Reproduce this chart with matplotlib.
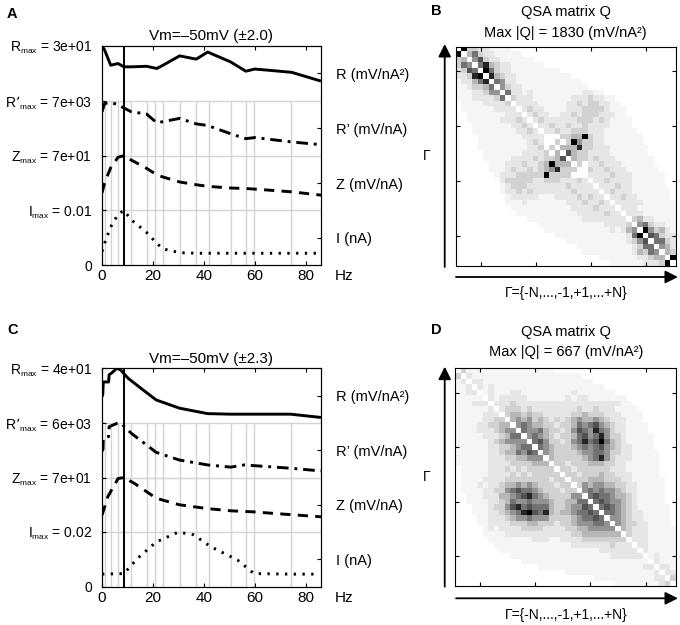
import numpy as np
import matplotlib
matplotlib.use("Agg")
import matplotlib.pyplot as plt
import matplotlib._mathtext as mt
from matplotlib.colors import PowerNorm

plt.rcParams['font.family'] = ['Liberation Sans', 'DejaVu Sans']
plt.rcParams['mathtext.default'] = 'regular'
mt.SHRINK_FACTOR = 0.6  # subscrito "max" menor, como na figura original

# ---------------- dados ----------------
# frequencias das linhas cinzas verticais (Hz)
freq_gray = [1, 3.4, 6.2, 11.5, 17.5, 21, 23.8, 30.8, 37, 42, 50.6, 56.6, 59.8, 74.4]

# painel A (valores normalizados pelo maximo de cada curva)
f_res_A = 8.6
fA = [0, 1, 3.4, 6.3, 8.6, 11.5, 17.5, 21.5, 24, 30.5, 37, 41.5, 50.5, 56.5, 60, 74.5, 86]
R_A = [1.0, 0.93, 0.65, 0.68, 0.62, 0.62, 0.63, 0.59, 0.65, 0.82, 0.76, 0.89, 0.71, 0.54, 0.58, 0.52, 0.36]
Rp_A = [0.80, 0.95, 0.97, 0.93, 0.87, 0.80, 0.76, 0.60, 0.62, 0.68, 0.58, 0.55, 0.40, 0.31, 0.33, 0.25, 0.20]
Z_A = [0.32, 0.50, 0.78, 0.97, 1.0, 0.92, 0.77, 0.65, 0.61, 0.52, 0.47, 0.44, 0.41, 0.40, 0.39, 0.34, 0.28]
I_A = [0.25, 0.40, 0.70, 0.93, 1.0, 0.83, 0.60, 0.40, 0.30, 0.23, 0.22, 0.22, 0.22, 0.22, 0.22, 0.22, 0.22]
labels_A = ["0", "I$_{max}$ = 0.01", "Z$_{max}$ = 7e+01", "R’$_{max}$ = 7e+03", "R$_{max}$ = 3e+01"]
title_A = "Vm=–50mV (±2.0)"

# painel C
f_res_C = 8.5
fC_R = [0, 0.3, 0.5, 2.6, 2.8, 4.2, 5.8, 7.3, 10.2, 15.4, 21.3, 30.4, 41.5, 50.6, 74, 86]
R_C = [0.48, 0.52, 0.75, 0.75, 0.88, 0.93, 1.0, 0.97, 0.82, 0.63, 0.42, 0.27, 0.17, 0.16, 0.16, 0.10]
fC_Rp = [0, 0.4, 0.5, 2.6, 2.8, 5.8, 7.3, 11.5, 21.3, 30.4, 41.5, 50.6, 55.8, 74, 86]
Rp_C = [0.48, 0.52, 0.72, 0.75, 0.93, 0.99, 1.0, 0.81, 0.46, 0.32, 0.23, 0.19, 0.23, 0.17, 0.12]
fC_Z = [0, 2.3, 6.3, 8.6, 12.8, 21.3, 30.4, 41.5, 50.6, 59.7, 74, 86]
Z_C = [0.31, 0.65, 0.98, 1.0, 0.89, 0.62, 0.50, 0.43, 0.39, 0.37, 0.32, 0.28]
fC_I = [0, 8.6, 14, 21.3, 30, 36, 42.8, 53.2, 59.7, 74, 84]
I_C = [0.23, 0.24, 0.52, 0.82, 1.0, 0.95, 0.73, 0.49, 0.24, 0.23, 0.23]
labels_C = ["0", "I$_{max}$ = 0.02", "Z$_{max}$ = 7e+01", "R’$_{max}$ = 6e+03", "R$_{max}$ = 4e+01"]
title_C = "Vm=–50mV (±2.3)"

right_labels = ["I (nA)", "Z (mV/nA)", "R’ (mV/nA)", "R (mV/nA²)"]

# matrizes Q (triangulo superior, intensidade 0-9)
Q_B_upper = [
    "0933221111 0000000000 0000000000 0000000000",
    "0046322111 1100000000 0000000000 0000000000",
    "0005732211 1111000000 0000000000 0000000000",
    "0000684322 1111110000 0000000000 0000000000",
    "0000096322 1111111110 0000000000 0000000000",
    "0000008432 2111111111 1000000000 0000000000",
    "0000000652 2111111111 1110000000 0000000000",
    "0000000053 2211111111 1111000000 0000000000",
    "0000000006 2212111111 1112211000 0000000000",
    "0000000000 3222111111 1222322110 0000000000",
    "0000000000 0222211111 2232332211 0000000000",
    "0000000000 0023221111 2223333211 1000000000",
    "0000000000 0002322112 2323332221 1000000000",
    "0000000000 0000232222 2233323211 1100000000",
    "0000000000 0000022322 3223222211 1100000000",
    "0000000000 0000002232 2333222111 1110000000",
    "0000000000 0000000003 3449322111 1111000000",
    "0000000000 0000000030 3953322111 1111000000",
    "0000000000 0000000004 4483322211 1111100000",
    "0000000000 0000000000 7433222211 1111100000",
    "0000000000 0000000000 0433232221 1111110000",
    "0000000000 0000000000 0030223222 1111110000",
    "0000000000 0000000000 0000322322 2111111000",
    "0000000000 0000000000 0000222232 2211111100",
    "0000000000 0000000000 0000022322 2211111100",
    "0000000000 0000000000 0000002223 2211111100",
    "0000000000 0000000000 0000000232 2211111110",
    "0000000000 0000000000 0000000022 3221111110",
    "0000000000 0000000000 0000000002 2222111111",
    "0000000000 0000000000 0000000000 2221111111",
    "0000000000 0000000000 0000000000 0222111111",
    "0000000000 0000000000 0000000000 0034221111",
    "0000000000 0000000000 0000000000 0005632211",
    "0000000000 0000000000 0000000000 0000953421",
    "0000000000 0000000000 0000000000 0000076322",
    "0000000000 0000000000 0000000000 0000006632",
    "0000000000 0000000000 0000000000 0000000542",
    "0000000000 0000000000 0000000000 0000000043",
    "0000000000 0000000000 0000000000 0000000009",
    "0000000000 0000000000 0000000000 0000000000",
]

Q_D_upper = [
    "0311111111 1111111100 0000000000 0000000000",
    "0021111111 1111111111 1110000000 0000000000",
    "0002211111 1111111111 1111100000 0000000000",
    "0000212111 1111111111 1111111000 0000000000",
    "0000012111 2211111111 1211111110 0000000000",
    "0000002122 2221111111 2122111111 1000000000",
    "0000000222 3222222222 2222222222 1100000000",
    "0000000023 3323222222 2232232221 1110000000",
    "0000000003 4434332222 2334333222 1111000000",
    "0000000000 4545343232 3454454322 2111000000",
    "0000000000 0565443323 3465675432 2111100000",
    "0000000000 0065564332 3576586532 2111100000",
    "0000000000 0005654323 3467568533 2111110000",
    "0000000000 0000675332 3568679643 2111110000",
    "0000000000 0000065433 3456567543 2211110000",
    "0000000000 0000005433 3345566533 2211111000",
    "0000000000 0000000433 3334568532 2211111000",
    "0000000000 0000000033 2333444332 2111111000",
    "0000000000 0000000003 3233333322 2111111000",
    "0000000000 0000000000 3323334332 2211111000",
    "0000000000 0000000000 0333444333 2211111100",
    "0000000000 0000000000 0035455443 3221111100",
    "0000000000 0000000000 0005656554 3221111100",
    "0000000000 0000000000 0000676654 4321111100",
    "0000000000 0000000000 0000067655 4321111100",
    "0000000000 0000000000 0000006765 4321111110",
    "0000000000 0000000000 0000000665 4322111110",
    "0000000000 0000000000 0000000055 4322111110",
    "0000000000 0000000000 0000000005 4332211110",
    "0000000000 0000000000 0000000000 4322211111",
    "0000000000 0000000000 0000000000 0322211111",
    "0000000000 0000000000 0000000000 0022211111",
    "0000000000 0000000000 0000000000 0002211111",
    "0000000000 0000000000 0000000000 0000211111",
    "0000000000 0000000000 0000000000 0000012111",
    "0000000000 0000000000 0000000000 0000002111",
    "0000000000 0000000000 0000000000 0000000221",
    "0000000000 0000000000 0000000000 0000000022",
    "0000000000 0000000000 0000000000 0000000003",
    "0000000000 0000000000 0000000000 0000000000",
]
max_Q_B = 1830
max_Q_D = 667


def matriz_simetrica(linhas):
    U = np.array([[int(c) for c in l.replace(" ", "")] for l in linhas], dtype=float)
    return U + U.T


# estilos das curvas (R, R', Z, I)
estilos = [dict(ls="-"), dict(ls=(0, (4, 2, 1, 2))), dict(ls=(0, (3.5, 2.5))), dict(ls=(0, (0.8, 2.2)))]


def painel_curvas(ax, curvas, f_res, labels, titulo):
    # linhas de grade
    for y in [1, 2, 3]:
        ax.axhline(y, color="#d4d4d4", lw=1.0, zorder=1)
    ax.vlines(freq_gray, 0, 3, color="#d4d4d4", lw=1.0, zorder=1)
    ax.axvline(f_res, color="black", lw=1.4, zorder=3)
    # cada curva no seu "andar" (R em cima, I embaixo)
    for k, (f, v) in enumerate(curvas):
        base = 3 - k
        ax.plot(f, np.array(v) + base, color="black", lw=2.1, solid_capstyle="butt",
                dash_capstyle="butt", zorder=4, **estilos[k])
    ax.set_xlim(0, 86)
    ax.set_ylim(0, 4)
    ax.set_xticks([0, 20, 40, 60, 80])
    ax.set_yticks([0, 1, 2, 3, 4], labels=labels)
    ax.tick_params(direction="in", length=3, top=True)
    ax.tick_params(axis="x", labelsize=11, pad=3)
    ax.tick_params(axis="y", labelsize=10, pad=7)
    ax2 = ax.twinx()
    ax2.set_ylim(0, 4)
    ax2.set_yticks([0.5, 1.5, 2.5, 3.5], labels=right_labels)
    ax2.tick_params(direction="in", length=3, labelsize=10.5, pad=11)
    ax.text(1.065, -0.018, "Hz", transform=ax.transAxes, ha="left", va="top", fontsize=11)
    ax.set_title(titulo, fontsize=11, pad=4)


def painel_matriz(ax, Q):
    ax.imshow(Q, cmap="Greys", norm=PowerNorm(gamma=1.15, vmin=0, vmax=9), interpolation="nearest",
              extent=(0.5, 40.5, 40.5, 0.5), aspect="auto")
    ax.set_xticks([5, 15, 25, 35])
    ax.set_yticks([5, 15, 25, 35])
    ax.tick_params(direction="in", length=3, top=True, right=True,
                   labelbottom=False, labelleft=False)


fig = plt.figure(figsize=(6.8, 6.25), dpi=100)

axA = fig.add_axes([0.150, 0.5755, 0.322, 0.3509])
painel_curvas(axA, [(fA, R_A), (fA, Rp_A), (fA, Z_A), (fA, I_A)], f_res_A, labels_A, title_A)

axC = fig.add_axes([0.150, 0.0613, 0.322, 0.3494])
painel_curvas(axC, [(fC_R, R_C), (fC_Rp, Rp_C), (fC_Z, Z_C), (fC_I, I_C)], f_res_C, labels_C, title_C)

axB = fig.add_axes([0.6706, 0.5749, 0.3235, 0.3507])
painel_matriz(axB, matriz_simetrica(Q_B_upper))

axD = fig.add_axes([0.669, 0.0624, 0.325, 0.3483])
painel_matriz(axD, matriz_simetrica(Q_D_upper))

# setas e textos dos paineis das matrizes
seta = dict(arrowstyle="-|>", color="black", lw=1.3, mutation_scale=19, shrinkA=0, shrinkB=0)
for y_base, y_topo, y_hor, y_lab, y_gam, t1, t2, maxq in [
        (0.5728, 0.9296, 0.5568, 0.531, 0.75, 0.981, 0.947, max_Q_B),
        (0.0613, 0.4133, 0.0427, 0.016, 0.237, 0.469, 0.437, max_Q_D)]:
    fig.add_artist(matplotlib.patches.FancyArrowPatch((0.654, y_base), (0.654, y_topo),
                                                      transform=fig.transFigure, **seta))
    fig.add_artist(matplotlib.patches.FancyArrowPatch((0.6706, y_hor), (0.997, y_hor),
                                                      transform=fig.transFigure, **seta))
    fig.text(0.832, y_lab, "Γ={-N,...,-1,+1,...+N}", ha="center", va="center", fontsize=10)
    fig.text(0.628, y_gam, "Γ", ha="center", va="center", fontsize=10)
    fig.text(0.832, t1, "QSA matrix Q", ha="center", va="center", fontsize=10.5)
    fig.text(0.832, t2, f"Max |Q| = {maxq} (mV/nA²)", ha="center", va="center", fontsize=10.5)

# letras dos paineis
for x, y, letra in [(0.018, 0.978, "A"), (0.641, 0.982, "B"), (0.019, 0.472, "C"), (0.641, 0.472, "D")]:
    fig.text(x, y, letra, ha="center", va="center", fontsize=10.5, fontweight="bold")

fig.savefig("out.png", dpi=100)
